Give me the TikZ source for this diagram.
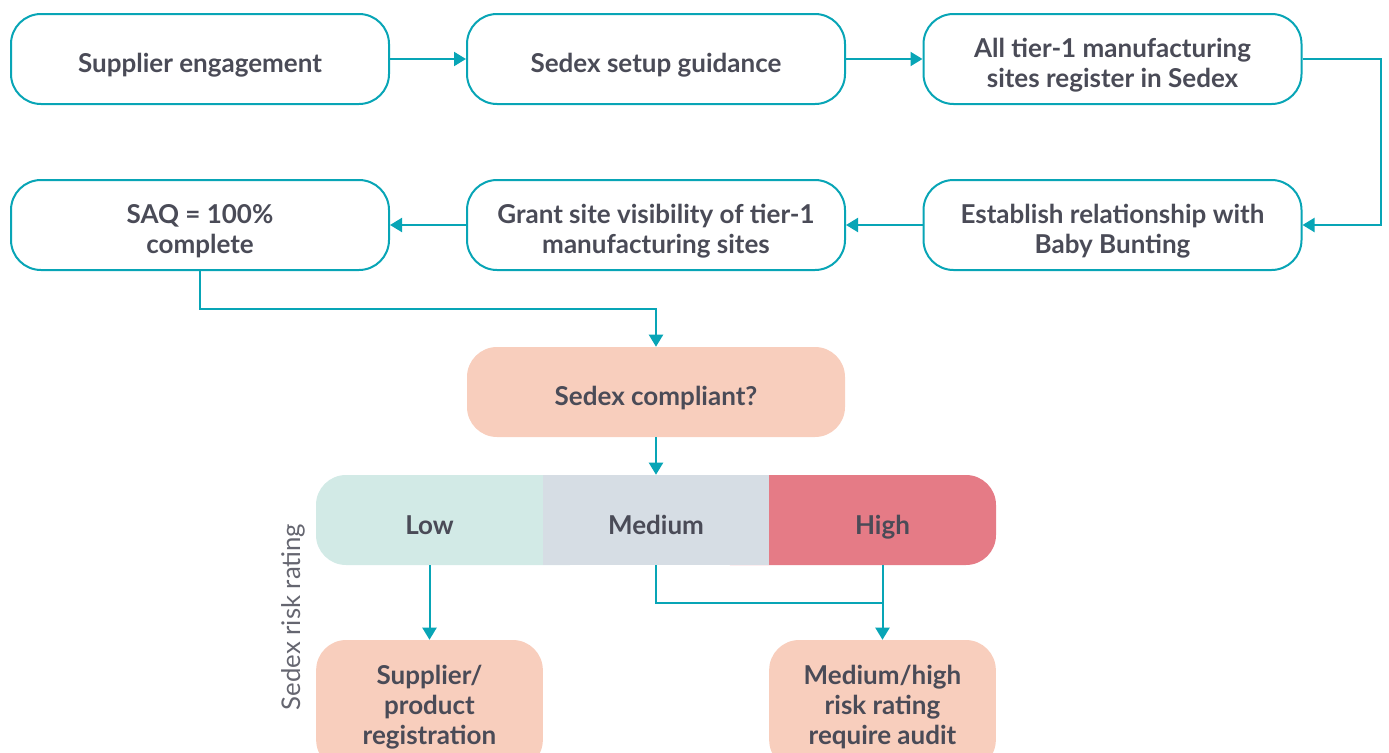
\documentclass[tikz,border=0pt]{standalone}
\usepackage{fontspec}
\setmainfont{Lato}
\usetikzlibrary{arrows.meta}
\definecolor{teal}{RGB}{8,165,182}
\definecolor{txt}{RGB}{74,75,87}
\definecolor{peach}{RGB}{248,206,189}
\definecolor{lowc}{RGB}{210,234,230}
\definecolor{medc}{RGB}{214,221,228}
\definecolor{highc}{RGB}{229,123,134}
\begin{document}
\begin{tikzpicture}[x=0.75pt,y=-0.75pt,
  every node/.style={text=txt,font=\fontsize{19.5pt}{22.5pt}\selectfont\bfseries,align=center},
  txtlab/.style={label={[yshift=-4.5pt,inner sep=0pt]center:#1}},
  txtlabb/.style={label={[yshift=-1.5pt,inner sep=0pt]center:#1}},
  bandlab/.style={label={[yshift=-5.25pt,inner sep=0pt]center:\vphantom{Hg}#1}},
  flowbox/.style={draw=teal,line width=1.5pt,rounded corners=22.5pt,minimum width=283.5pt,minimum height=67.5pt,inner sep=0pt,fill=white},
  peachbox/.style={fill=peach,rounded corners=22.5pt,minimum width=283.5pt,minimum height=67.5pt,inner sep=0pt},
  outbox/.style={fill=peach,rounded corners=22.5pt,minimum width=170pt,minimum height=97.5pt,inner sep=0pt},
  band/.style={minimum width=170pt,minimum height=67.5pt,inner sep=0pt},
  conn/.style={draw=teal,line width=1.5pt},
  arr/.style={conn,-{Triangle[length=9pt,width=10.5pt]}}]
\useasboundingbox (0,0) rectangle (1389,753);
\clip (0,0) rectangle (1389,753);
% row 1
\node[flowbox,txtlab={Supplier engagement}] (b1) at (200,59) {};
\node[flowbox,txtlab={Sedex setup guidance}] (b2) at (656,59) {};
\node[flowbox,txtlab={All tier-1 manufacturing\\sites register in Sedex}] (b3) at (1112.5,59) {};
% row 2
\node[flowbox,txtlab={Establish relationship with\\Baby Bunting}] (b4) at (1112.5,225) {};
\node[flowbox,txtlab={Grant site visibility of tier-1\\manufacturing sites}] (b5) at (656,225) {};
\node[flowbox,txtlab={SAQ = 100\%\\complete}] (b6) at (200,225) {};
% compliant
\node[peachbox,txtlab={Sedex compliant?}] (comp) at (656,392) {};
% rating band
\fill[highc,rounded corners=22.5pt] (700,475) rectangle (996,565);
\fill[lowc,rounded corners=22.5pt] (316,475) rectangle (600,565);
\fill[medc] (543,475) rectangle (769,565);
\node[band,bandlab={Low}] (low) at (429.5,520) {};
\node[band,bandlab={Medium}] (med) at (656,520) {};
\node[band,bandlab={High}] (high) at (882.5,520) {};
\node[rotate=90,font=\fontsize{19.3pt}{22.5pt}\selectfont,text=txt!85] (lbl) at (293,617) {Sedex risk rating};
% outcomes
\node[outbox,txtlabb={Supplier/\\product\\registration}] (reg) at (429.5,705) {};
\node[outbox,txtlabb={Medium/high\\risk rating\\require audit}] (aud) at (882.5,705) {};
% connectors
\draw[arr] (b1.east) -- (b2.west);
\draw[arr] (b2.east) -- (b3.west);
\draw[arr] (b3.east) -- ++(78,0) |- (b4.east);
\draw[arr] (b4.west) -- (b5.east);
\draw[arr] (b5.west) -- (b6.east);
\draw[arr] (b6.south) -- ++(0,38) -| (comp.north);
\draw[arr] (comp.south) -- (med.north);
\draw[arr] (low.south) -- (reg.north);
\draw[conn] (med.south) -- ++(0,38) -| (high.south);
\draw[arr] (high.south) -- (aud.north);
\end{tikzpicture}
\end{document}
